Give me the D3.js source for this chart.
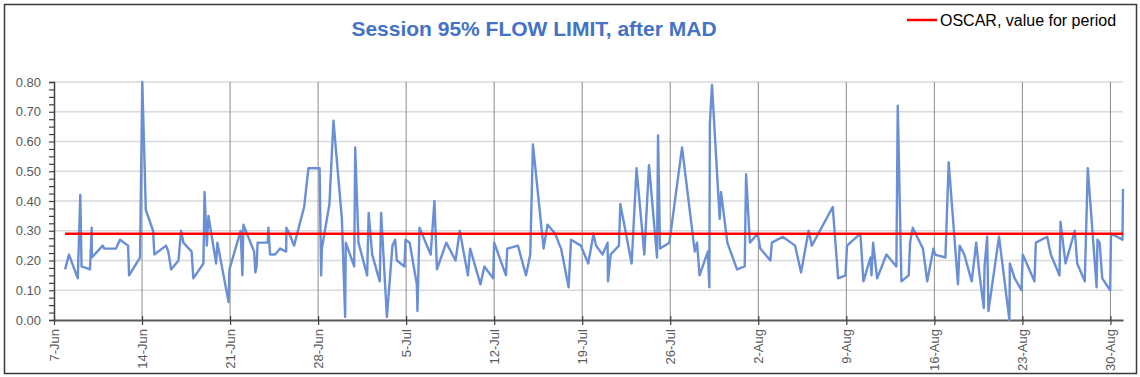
<!DOCTYPE html>
<html>
<head>
<meta charset="utf-8">
<script src="https://cdn.jsdelivr.net/npm/d3@7"></script>
<style>
  body { margin: 0; background: #fff; }
  svg { display: block; font-family: "Liberation Sans", Arial, sans-serif; }
</style>
</head>
<body>
<div id="chart"></div>
<script>
// Session times, as days after 7-Jun (fractional, irregular sessions)
var sessionDays = [
  0.88, 1.19, 1.89, 2.09, 2.19, 2.86, 3.0, 3.01, 3.87, 4.0,
  4.93, 5.25, 5.89, 5.97, 6.84, 7.02, 7.3, 7.88, 7.98, 8.91,
  9.09, 9.31, 9.9, 10.1, 10.29, 10.94, 11.08, 11.88, 11.97, 12.15,
  12.28, 12.89, 12.99, 13.88, 13.95, 14.84, 14.98, 15.06, 15.91, 16.01,
  16.11, 16.19, 16.99, 17.05, 17.18, 17.58, 17.98, 18.46, 18.48, 18.72,
  19.09, 19.89, 20.23, 21.12, 21.24, 21.3, 21.9, 22.22, 22.89, 23.15,
  23.2, 23.87, 23.95, 24.21, 24.9, 25.02, 25.3, 25.9, 26.01, 26.47,
  26.91, 27.13, 27.26, 27.87, 27.95, 28.28, 28.85, 28.9, 29.06, 29.95,
  30.25, 30.45, 31.19, 31.93, 32.26, 32.91, 33.09, 33.91, 34.22, 34.92,
  35.0, 35.94, 36.04, 36.89, 37.53, 37.87, 38.08, 38.93, 39.24, 39.86,
  40.12, 40.32, 40.92, 41.11, 41.89, 42.48, 42.9, 43.1, 43.62, 44.02,
  44.05, 44.26, 44.92, 45.03, 45.93, 46.32, 46.94, 47.31, 47.95, 48.03,
  48.19, 48.93, 49.94, 50.95, 51.13, 51.33, 51.99, 52.11, 52.15, 52.32,
  52.93, 53.04, 53.54, 54.31, 54.92, 55.03, 55.33, 55.95, 56.16, 56.96,
  57.08, 57.94, 58.93, 59.4, 60.0, 60.26, 61.92, 62.35, 62.93, 63.06,
  64.12, 64.36, 64.92, 65.0, 65.13, 65.45, 66.19, 66.98, 67.09, 67.38,
  67.96, 68.07, 68.28, 69.09, 69.25, 69.43, 69.93, 70.06, 70.88, 71.14,
  71.88, 72.01, 72.38, 72.97, 73.33, 73.57, 73.93, 73.99, 74.2, 74.3,
  75.14, 75.97, 76.0, 76.39, 76.93, 77.03, 77.96, 78.07, 78.97, 79.26,
  79.95, 80.03, 80.43, 81.17, 81.36, 81.96, 82.2, 82.9, 82.97, 83.14,
  83.35, 83.98, 84.05, 84.96, 85.0
];

// 95% flow limit per session, after MAD
var flowLimit = [
  0.17, 0.22, 0.14, 0.42, 0.18, 0.17, 0.31, 0.21, 0.25, 0.24,
  0.24, 0.27, 0.25, 0.15, 0.21, 0.80, 0.37, 0.30, 0.22, 0.25,
  0.23, 0.17, 0.20, 0.30, 0.26, 0.23, 0.14, 0.19, 0.43, 0.25,
  0.35, 0.19, 0.26, 0.06, 0.17, 0.30, 0.15, 0.32, 0.23, 0.16,
  0.18, 0.26, 0.26, 0.31, 0.22, 0.22, 0.24, 0.23, 0.31, 0.29,
  0.25, 0.38, 0.51, 0.51, 0.15, 0.24, 0.39, 0.67, 0.34, 0.01,
  0.26, 0.18, 0.58, 0.26, 0.15, 0.36, 0.22, 0.13, 0.36, 0.01,
  0.25, 0.27, 0.20, 0.18, 0.27, 0.26, 0.12, 0.03, 0.31, 0.22,
  0.40, 0.17, 0.26, 0.20, 0.30, 0.15, 0.24, 0.12, 0.18, 0.14,
  0.26, 0.15, 0.24, 0.25, 0.15, 0.22, 0.59, 0.24, 0.32, 0.29,
  0.26, 0.24, 0.11, 0.27, 0.25, 0.19, 0.29, 0.25, 0.22, 0.26,
  0.13, 0.22, 0.25, 0.39, 0.19, 0.51, 0.22, 0.52, 0.21, 0.62,
  0.24, 0.26, 0.58, 0.23, 0.26, 0.15, 0.23, 0.11, 0.66, 0.79,
  0.34, 0.43, 0.26, 0.17, 0.18, 0.49, 0.26, 0.29, 0.24, 0.20,
  0.26, 0.28, 0.25, 0.16, 0.30, 0.25, 0.38, 0.14, 0.15, 0.25,
  0.29, 0.13, 0.21, 0.15, 0.26, 0.14, 0.22, 0.18, 0.72, 0.13,
  0.15, 0.26, 0.31, 0.24, 0.19, 0.13, 0.24, 0.22, 0.21, 0.53,
  0.12, 0.25, 0.22, 0.13, 0.26, 0.16, 0.04, 0.18, 0.28, 0.03,
  0.28, 0.00, 0.19, 0.14, 0.10, 0.22, 0.13, 0.26, 0.28, 0.22,
  0.15, 0.33, 0.19, 0.30, 0.19, 0.13, 0.51, 0.11, 0.27, 0.26,
  0.14, 0.10, 0.29, 0.27, 0.44
];

var oscarValue = 0.29;
var yTicks = [0, 0.1, 0.2, 0.3, 0.4, 0.5, 0.6, 0.7, 0.8];
var weekOffsets = [0, 7, 14, 21, 28, 35, 42, 49, 56, 63, 70, 77, 84];

var width = 1140, height = 377;
var margin = { top: 82, right: 17, bottom: 57, left: 54 };

var startDate = new Date(2023, 5, 7);
function dayToDate(d) { return new Date(startDate.getTime() + d * 864e5); }
var endDate = dayToDate(85);

var data = sessionDays.map(function(d, i) {
    return { date: dayToDate(d), value: flowLimit[i] };
});

var svg = d3.select("#chart")
    .append("svg")
    .attr("width", width)
    .attr("height", height);

// chart frame
svg.append("rect")
    .attr("x", 4.5).attr("y", 4.5)
    .attr("width", 1132).attr("height", 369)
    .attr("fill", "#fff")
    .attr("stroke", "#3a3a3a")
    .attr("stroke-width", 1.5);

var x = d3.scaleTime()
    .domain([startDate, endDate])
    .range([margin.left, width - margin.right]);

var y = d3.scaleLinear()
    .domain([0, 0.8])
    .range([height - margin.bottom, margin.top]);

// horizontal gridlines
svg.append("g")
    .selectAll("line")
    .data(yTicks.slice(1))
    .enter().append("line")
    .attr("x1", margin.left).attr("x2", width - margin.right)
    .attr("y1", d => y(d)).attr("y2", d => y(d))
    .attr("stroke", "#d9d9d9")
    .attr("stroke-width", 1.5);

var weekDates = weekOffsets.map(dayToDate);

// vertical gridlines at weeks
svg.append("g")
    .selectAll("line")
    .data(weekDates.slice(1))
    .enter().append("line")
    .attr("x1", d => x(d)).attr("x2", d => x(d))
    .attr("y1", y(0.8)).attr("y2", y(0))
    .attr("stroke", "#8c8c8c")
    .attr("stroke-width", 1);

// y axis with minor ticks
var yAxis = svg.append("g")
    .attr("transform", "translate(" + margin.left + ",0)")
    .call(d3.axisLeft(y).tickValues(d3.range(0, 0.8001, 0.025)).tickSize(5).tickFormat(""));
yAxis.select(".domain").attr("stroke", "#404040").attr("stroke-width", 1.5);
yAxis.selectAll(".tick line").attr("stroke", "#404040").attr("stroke-width", 1.2);

svg.append("g")
    .selectAll("text")
    .data(yTicks)
    .enter().append("text")
    .attr("x", 41)
    .attr("y", d => y(d) + 4.5)
    .attr("text-anchor", "end")
    .attr("fill", "#595959")
    .style("font-size", "13px")
    .text(d => d3.format(".2f")(d));

// x axis
var xAxis = svg.append("g")
    .attr("transform", "translate(0," + y(0) + ")")
    .call(d3.axisBottom(x).tickValues(weekDates).tickSize(5).tickSizeOuter(0).tickFormat(d3.timeFormat("%-d-%b")));
xAxis.select(".domain").attr("stroke", "#595959").attr("stroke-width", 2);
xAxis.selectAll(".tick line").attr("stroke", "#404040").attr("stroke-width", 1.2).attr("y1", -4);
xAxis.selectAll(".tick text")
    .attr("fill", "#595959")
    .style("font-size", "13px")
    .style("font-family", "Liberation Sans, Arial, sans-serif")
    .attr("transform", "rotate(-90)")
    .attr("text-anchor", "end")
    .attr("x", -9)
    .attr("y", 0)
    .attr("dy", "0.35em");

// flow limit series
var line = d3.line()
    .x(d => x(d.date))
    .y(d => y(d.value));

svg.append("path")
    .datum(data)
    .attr("fill", "none")
    .attr("stroke", "#6a8fd6")
    .attr("stroke-width", 2.4)
    .attr("stroke-linejoin", "round")
    .attr("d", line);

// OSCAR value for period
svg.append("line")
    .attr("x1", x(data[0].date)).attr("x2", x(data[data.length - 1].date))
    .attr("y1", y(oscarValue)).attr("y2", y(oscarValue))
    .attr("stroke", "#ff0000")
    .attr("stroke-width", 2.5);

// title
svg.append("text")
    .attr("x", 534)
    .attr("y", 36)
    .attr("text-anchor", "middle")
    .attr("fill", "#4472c4")
    .style("font-size", "21px")
    .style("font-weight", "bold")
    .text("Session 95% FLOW LIMIT, after MAD");

// legend
svg.append("line")
    .attr("x1", 907).attr("x2", 937)
    .attr("y1", 20).attr("y2", 20)
    .attr("stroke", "#ff0000")
    .attr("stroke-width", 2.5);
svg.append("text")
    .attr("x", 940)
    .attr("y", 25.5)
    .attr("fill", "#000")
    .style("font-size", "16px")
    .text("OSCAR, value for period");
</script>
</body>
</html>
